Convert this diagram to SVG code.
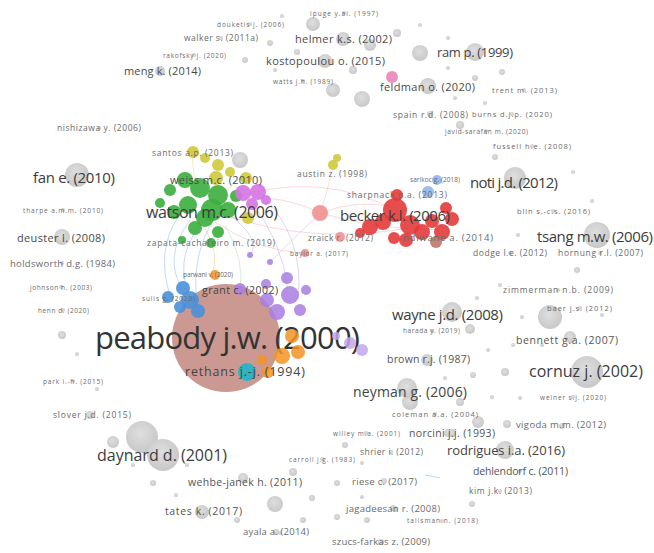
<svg xmlns="http://www.w3.org/2000/svg" width="654" height="553" viewBox="0 0 654 553">
<defs>
<radialGradient id="gg" cx="45%" cy="40%" r="60%"><stop offset="0" stop-color="#dedede"/><stop offset="1" stop-color="#c8c8c8"/></radialGradient>
<style>
.g{fill:url(#gg)}
.gr{fill:#3aae3e;opacity:.9}
.ye{fill:#cfc93a;opacity:.9}
.mg{fill:#d673e3;opacity:.9}
.pu{fill:#a77de2;opacity:.85}
.lp{fill:#c3a6ea;opacity:.85}
.or{fill:#f39324;opacity:.85}
.bl{fill:#4a90d8;opacity:.9}
.lb{fill:#8fb6ea;opacity:.9}
.rd{fill:#e33b3b;opacity:.9}
.lr{fill:#f29090;opacity:.9}
.cy{fill:#1fb5c9;opacity:.9}
text{font-family:"Open Sans","Liberation Sans",sans-serif;fill:#6a6a6a;lengthAdjust:spacingAndGlyphs}
.a{font-size:6.5px}.b{font-size:7.5px}.c{font-size:8.5px}.d{font-size:9.5px}
.e{font-size:11px;fill:#4a4a4a}.f{font-size:13px;fill:#444}.h{font-size:15px;fill:#3c3c3c}.z{font-size:31px;fill:#333}
#links path{fill:none;stroke-width:.8;opacity:.5}
</style>
</defs>
<rect width="654" height="553" fill="#fff"/>
<g id="links">
<path d="M215,205 Q270,188 320,213" stroke="#f2a0a0"/>
<path d="M228,200 Q320,168 398,212" stroke="#f2a0a0"/>
<path d="M225,215 Q310,245 410,228" stroke="#f2a0a0"/>
<path d="M320,213 Q360,198 395,208" stroke="#f2a0a0"/>
<path d="M320,213 Q380,230 440,230" stroke="#f2a0a0"/>
<path d="M320,213 Q328,190 332,170" stroke="#f2b0b0"/>
<path d="M215,222 Q260,252 305,253" stroke="#f2a0a0"/>
<path d="M190,220 Q162,258 183,290" stroke="#6aa4e0"/>
<path d="M200,225 Q172,262 192,300" stroke="#6aa4e0"/>
<path d="M180,214 Q155,250 170,295" stroke="#6aa4e0"/>
<path d="M210,226 Q190,262 198,310" stroke="#6aa4e0"/>
<path d="M250,200 Q282,240 288,290" stroke="#b590e6"/>
<path d="M262,195 Q305,238 298,300" stroke="#b590e6"/>
<path d="M320,213 Q292,240 270,262" stroke="#c0a0ea"/>
<path d="M230,215 Q262,240 250,255" stroke="#b590e6"/>
<path d="M205,228 Q220,255 212,275" stroke="#f5b060"/>
<path d="M198,190 Q192,172 192,153" stroke="#d8d060"/>
<path d="M220,200 Q235,180 245,175" stroke="#d8d060"/>
<path d="M225,225 Q245,260 240,290" stroke="#a0d0a0"/>
<path d="M425,475 Q432,476 440,478" stroke="#1fb5c9" stroke-width="1.6" opacity=".8"/>
</g>
<g id="n_peabody"><circle cx="226" cy="338" r="54" fill="#c8948b" opacity=".95"/><text class="z" x="95" y="349" textLength="265">peabody j.w. (2000)</text></g>
<g id="clusters">
<g id="c_g1"><circle class="gr" cx="170" cy="190" r="6"/></g>
<g id="c_g2"><circle class="gr" cx="185" cy="180" r="8"/></g>
<g id="c_g3"><circle class="gr" cx="200" cy="188" r="10"/></g>
<g id="c_g4"><circle class="gr" cx="218" cy="195" r="10"/></g>
<g id="c_g5"><circle class="gr" cx="188" cy="205" r="9"/></g>
<g id="c_g6"><circle class="gr" cx="174" cy="212" r="7"/></g>
<g id="c_g7"><circle class="gr" cx="205" cy="218" r="9"/></g>
<g id="c_g8"><circle class="gr" cx="228" cy="210" r="8"/></g>
<g id="c_g9"><circle class="gr" cx="195" cy="228" r="7"/></g>
<g id="c_g10"><circle class="gr" cx="218" cy="232" r="6"/></g>
<g id="c_g11"><circle class="gr" cx="160" cy="203" r="5"/></g>
<g id="c_g12"><circle class="gr" cx="236" cy="196" r="6"/></g>
<g id="c_g13"><circle class="gr" cx="182" cy="240" r="4"/></g>
<g id="c_y1"><circle class="ye" cx="205" cy="158" r="5"/></g>
<g id="c_y2"><circle class="ye" cx="218" cy="165" r="6"/></g>
<g id="c_y3"><circle class="ye" cx="230" cy="172" r="5"/></g>
<g id="c_y4"><circle class="ye" cx="246" cy="178" r="6"/></g>
<g id="c_y5"><circle class="ye" cx="248" cy="218" r="6"/></g>
<g id="c_y6"><circle class="ye" cx="337" cy="158" r="4"/></g>
<g id="c_gr"><circle class="g" cx="240" cy="160" r="8"/></g>
<g id="c_m1"><circle class="mg" cx="243" cy="193" r="8"/></g>
<g id="c_m2"><circle class="mg" cx="258" cy="192" r="8"/></g>
<g id="c_m3"><circle class="mg" cx="252" cy="204" r="6"/></g>
<g id="c_m4"><circle class="mg" cx="266" cy="200" r="5"/></g>
<g id="c_p1"><circle class="pu" cx="287" cy="278" r="6"/></g>
<g id="c_p2"><circle class="pu" cx="290" cy="295" r="9"/></g>
<g id="c_p3"><circle class="pu" cx="277" cy="312" r="8"/></g>
<g id="c_p4"><circle class="pu" cx="267" cy="300" r="7"/></g>
<g id="c_p5"><circle class="pu" cx="300" cy="310" r="6"/></g>
<g id="c_p6"><circle class="pu" cx="306" cy="290" r="5"/></g>
<g id="c_p7"><circle class="pu" cx="266" cy="284" r="5"/></g>
<g id="c_p8"><circle class="pu" cx="250" cy="255" r="3"/></g>
<g id="c_p9"><circle class="pu" cx="270" cy="262" r="3"/></g>
<g id="c_p10"><circle class="lp" cx="350" cy="343" r="6"/></g>
<g id="c_p11"><circle class="lp" cx="362" cy="350" r="6"/></g>
<g id="c_p12"><circle class="lp" cx="336" cy="336" r="4"/></g>
<g id="c_o1"><circle class="or" cx="292" cy="336" r="7"/></g>
<g id="c_o2"><circle class="or" cx="298" cy="352" r="7"/></g>
<g id="c_o3"><circle class="or" cx="268" cy="372" r="6"/></g>
<g id="c_o4"><circle class="or" cx="282" cy="356" r="8"/></g>
<g id="c_o5"><circle class="or" cx="262" cy="360" r="5"/></g>
<g id="c_b1"><circle class="bl" cx="183" cy="288" r="7"/></g>
<g id="c_b2"><circle class="bl" cx="190" cy="300" r="9"/></g>
<g id="c_b3"><circle class="bl" cx="180" cy="307" r="6"/></g>
<g id="c_b4"><circle class="bl" cx="198" cy="311" r="7"/></g>
<g id="c_r1"><circle class="rd" cx="370" cy="227" r="8"/></g>
<g id="c_r2"><circle class="rd" cx="383" cy="222" r="8"/></g>
<g id="c_r3"><circle class="rd" cx="410" cy="225" r="10"/></g>
<g id="c_r4"><circle class="rd" cx="422" cy="232" r="8"/></g>
<g id="c_r5"><circle class="rd" cx="406" cy="240" r="7"/></g>
<g id="c_r6"><circle class="rd" cx="432" cy="221" r="7"/></g>
<g id="c_r7"><circle class="rd" cx="442" cy="232" r="8"/></g>
<g id="c_r8"><circle class="rd" cx="452" cy="219" r="7"/></g>
<g id="c_r9"><circle class="rd" cx="394" cy="238" r="6"/></g>
<g id="c_r10"><circle class="rd" cx="360" cy="233" r="5"/></g>
<g id="c_r11"><circle class="rd" cx="446" cy="208" r="6"/></g>
<g id="c_l1"><circle class="lr" cx="320" cy="213" r="8"/></g>
<g id="c_lb1"><circle class="lb" cx="428" cy="192" r="6"/></g>
<g id="c_pk"><circle fill="#ea7fb0" opacity=".85" cx="392" cy="77" r="6"/></g>
</g>
<g id="minor">
<g id="u1"><circle class="g" cx="313" cy="24" r="7"/></g>
<g id="u2"><circle class="g" cx="370" cy="45" r="6"/></g>
<g id="u3"><circle class="g" cx="397" cy="33" r="4"/></g>
<g id="u4"><circle class="g" cx="353" cy="70" r="4"/></g>
<g id="u5"><circle class="g" cx="333" cy="90" r="7"/></g>
<g id="u6"><circle class="g" cx="362" cy="99" r="8"/></g>
<g id="u7"><circle class="g" cx="420" cy="53" r="8"/></g>
<g id="u8"><circle class="g" cx="270" cy="43" r="3"/></g>
<g id="u9"><circle class="g" cx="245" cy="60" r="3"/></g>
<g id="u10"><circle class="g" cx="297" cy="52" r="3"/></g>
<g id="u11"><circle class="g" cx="275" cy="70" r="2"/></g>
<g id="u12"><circle class="g" cx="282" cy="16" r="2"/></g>
<g id="u13"><circle class="g" cx="420" cy="25" r="2"/></g>
<g id="u14"><circle class="g" cx="448" cy="38" r="2"/></g>
<g id="u15"><circle class="g" cx="448" cy="68" r="2"/></g>
<g id="u16"><circle class="g" cx="502" cy="72" r="3"/></g>
<g id="u17"><circle class="g" cx="475" cy="78" r="3"/></g>
<g id="u18"><circle class="g" cx="455" cy="98" r="2"/></g>
<g id="u19"><circle class="g" cx="485" cy="103" r="2"/></g>
<g id="u20"><circle class="g" cx="460" cy="125" r="4"/></g>
<g id="u21"><circle class="g" cx="573" cy="172" r="2"/></g>
<g id="u22"><circle class="g" cx="592" cy="201" r="2"/></g>
<g id="u23"><circle class="g" cx="518" cy="235" r="2"/></g>
<g id="u24"><circle class="g" cx="495" cy="157" r="3"/></g>
<g id="u25"><circle class="g" cx="577" cy="270" r="3"/></g>
<g id="u26"><circle class="g" cx="62" cy="335" r="4"/></g>
<g id="u27"><circle class="g" cx="77" cy="354" r="2"/></g>
<g id="u28"><circle class="g" cx="97" cy="389" r="2"/></g>
<g id="u29"><circle class="g" cx="500" cy="285" r="2"/></g>
<g id="u30"><circle class="g" cx="477" cy="298" r="2"/></g>
<g id="u31"><circle class="g" cx="522" cy="317" r="2"/></g>
<g id="u32"><circle class="g" cx="602" cy="315" r="2"/></g>
<g id="u33"><circle class="g" cx="513" cy="345" r="2"/></g>
<g id="u34"><circle class="g" cx="542" cy="345" r="2"/></g>
<g id="u35"><circle class="g" cx="488" cy="350" r="2"/></g>
<g id="u36"><circle class="g" cx="505" cy="372" r="4"/></g>
<g id="u37"><circle class="g" cx="473" cy="375" r="3"/></g>
<g id="u38"><circle class="g" cx="492" cy="397" r="2"/></g>
<g id="u39"><circle class="g" cx="520" cy="398" r="2"/></g>
<g id="u40"><circle class="g" cx="445" cy="378" r="2"/></g>
<g id="u41"><circle class="g" cx="142" cy="437" r="16"/></g>
<g id="u42"><circle class="g" cx="113" cy="442" r="6"/></g>
<g id="u43"><circle class="g" cx="133" cy="465" r="2"/></g>
<g id="u44"><circle class="g" cx="153" cy="483" r="3"/></g>
<g id="u45"><circle class="g" cx="176" cy="495" r="2"/></g>
<g id="u46"><circle class="g" cx="187" cy="465" r="2"/></g>
<g id="u47"><circle class="g" cx="275" cy="504" r="8"/></g>
<g id="u48"><circle class="g" cx="293" cy="472" r="4"/></g>
<g id="u49"><circle class="g" cx="312" cy="498" r="3"/></g>
<g id="u50"><circle class="g" cx="303" cy="520" r="3"/></g>
<g id="u51"><circle class="g" cx="337" cy="483" r="3"/></g>
<g id="u52"><circle class="g" cx="337" cy="517" r="3"/></g>
<g id="u53"><circle class="g" cx="367" cy="520" r="3"/></g>
<g id="u54"><circle class="g" cx="345" cy="445" r="3"/></g>
<g id="u55"><circle class="g" cx="362" cy="463" r="2"/></g>
<g id="u56"><circle class="g" cx="362" cy="497" r="2"/></g>
<g id="u57"><circle class="g" cx="237" cy="520" r="3"/></g>
<g id="u58"><circle class="g" cx="280" cy="533" r="2"/></g>
<g id="u59"><circle class="g" cx="380" cy="543" r="2"/></g>
<g id="u60"><circle class="g" cx="395" cy="509" r="3"/></g>
<g id="u61"><circle class="g" cx="410" cy="402" r="8"/></g>
<g id="u62"><circle class="g" cx="507" cy="424" r="4"/></g>
<g id="u63"><circle class="g" cx="472" cy="504" r="3"/></g>
<g id="u64"><circle class="g" cx="460" cy="402" r="4"/></g>
<g id="u65"><circle class="g" cx="478" cy="422" r="6"/></g>
<g id="u66"><circle class="g" cx="448" cy="433" r="4"/></g>
<g id="u67"><circle class="g" cx="550" cy="317" r="12"/></g>
<g id="u68"><circle class="g" cx="470" cy="329" r="5"/></g>
</g>
<g id="nodes">
<g id="n1"><circle class="g" cx="344" cy="13" r="2"/><text class="a" x="310" y="15.5" textLength="68">ipuge y.ai. (1997)</text></g>
<g id="n2"><circle class="g" cx="250" cy="24" r="2"/><text class="a" x="217" y="26.5" textLength="67">douketis j. (2006)</text></g>
<g id="n3"><circle class="g" cx="221" cy="38" r="2"/><text class="c" x="184" y="41" textLength="74">walker s. (2011a)</text></g>
<g id="n4"><circle class="g" cx="194" cy="55" r="2"/><text class="a" x="163" y="57.5" textLength="63">rakofsky j. (2020)</text></g>
<g id="n5"><circle class="g" cx="343" cy="39" r="7"/><text class="e" x="295" y="43" textLength="97">helmer k.s. (2002)</text></g>
<g id="n6"><circle class="g" cx="325" cy="61" r="7"/><text class="e" x="266" y="65" textLength="119">kostopoulou o. (2015)</text></g>
<g id="n7"><circle class="g" cx="160" cy="71" r="5"/><text class="e" x="124" y="75" textLength="77">meng k. (2014)</text></g>
<g id="n8"><circle class="g" cx="303" cy="81" r="2"/><text class="a" x="273" y="83.5" textLength="60">watts j.h. (1989)</text></g>
<g id="n9"><circle class="g" cx="475" cy="52" r="9"/><text class="f" x="437" y="56.5" textLength="76">ram p. (1999)</text></g>
<g id="n10"><circle class="g" cx="428" cy="86" r="8"/><text class="e" x="380" y="91" textLength="95">feldman o. (2020)</text></g>
<g id="n11"><circle class="g" cx="524" cy="90" r="2"/><text class="b" x="492" y="93" textLength="65">trent m. (2013)</text></g>
<g id="n12"><circle class="g" cx="430" cy="114" r="3"/><text class="c" x="393" y="118" textLength="75">spain r.d. (2008)</text></g>
<g id="n13"><circle class="g" cx="512" cy="114" r="2"/><text class="b" x="472" y="117" textLength="80">burns d.j.p. (2020)</text></g>
<g id="n14"><circle class="g" cx="486" cy="131" r="2"/><text class="a" x="445" y="133.5" textLength="83">javid-sarafan m. (2020)</text></g>
<g id="n15"><circle class="g" cx="99" cy="128" r="2"/><text class="c" x="57" y="131" textLength="84">nishizawa y. (2006)</text></g>
<g id="n16"><circle class="g" cx="532" cy="146" r="2"/><text class="b" x="493" y="149" textLength="78">fussell h.e. (2008)</text></g>
<g id="n17"><circle class="ye" cx="193" cy="152" r="6"/><text class="c" x="152" y="156" textLength="81">santos a.p. (2013)</text></g>
<g id="n18"><circle class="ye" cx="333" cy="165" r="5"/><text class="c" x="297" y="177" textLength="70">austin z. (1998)</text></g>
<g id="n19"><circle class="g" cx="77" cy="175" r="12"/><text class="h" x="33" y="183" textLength="82">fan e. (2010)</text></g>
<g id="n20"><circle class="ye" cx="216" cy="178" r="7"/><text class="e" x="170" y="184" textLength="92">weiss m.c. (2010)</text></g>
<g id="n21"><circle class="lb" cx="437" cy="180" r="5"/><text class="a" x="410" y="182" textLength="50">sarikoc g. (2018)</text></g>
<g id="n22"><circle class="g" cx="515" cy="178" r="11"/><text class="h" x="470" y="188" textLength="88">noti j.d. (2012)</text></g>
<g id="n23"><circle class="rd" cx="397" cy="195" r="6"/><text class="c" x="347" y="198" textLength="100">sharpnack p.a. (2013)</text></g>
<g id="n24"><circle class="g" cx="63" cy="210" r="2"/><text class="a" x="23" y="212.5" textLength="80">tharpe a.m.m. (2010)</text></g>
<g id="n25"><circle class="g" cx="553" cy="211" r="2"/><text class="b" x="517" y="214" textLength="73">blin s.-c.s. (2016)</text></g>
<g id="n26"><circle class="gr" cx="212" cy="210" r="11"/><text class="h" x="146" y="218" textLength="132" style="font-size:16px">watson m.c. (2006)</text></g>
<g id="n27"><circle class="rd" cx="395" cy="210" r="12"/><text class="h" x="340" y="221" textLength="110">becker k.l. (2006)</text></g>
<g id="n28"><circle class="g" cx="62" cy="237" r="8"/><text class="e" x="17" y="242" textLength="88">deuster l. (2008)</text></g>
<g id="n29"><circle class="gr" cx="211" cy="243" r="5"/><text class="c" x="147" y="246" textLength="128">zapata-cachafeiro m. (2019)</text></g>
<g id="n30"><circle class="lr" cx="340" cy="237" r="5"/><text class="c" x="308" y="241" textLength="65">zraick r. (2012)</text></g>
<g id="n31"><circle fill="#b8705e" opacity=".85" cx="436" cy="242" r="6"/><text class="d" x="403" y="240.5" textLength="90">ndiwane a. (2014)</text></g>
<g id="n32"><circle class="g" cx="597" cy="235" r="13"/><text class="h" x="537" y="242" textLength="116">tsang m.w. (2006)</text></g>
<g id="n33"><circle class="lr" cx="305" cy="253" r="4"/><text class="a" x="290" y="255.5" textLength="58">baylor a. (2017)</text></g>
<g id="n34"><circle class="g" cx="510" cy="253" r="2"/><text class="c" x="473" y="256" textLength="74">dodge l.e. (2012)</text></g>
<g id="n35"><circle class="g" cx="600" cy="253" r="2"/><text class="c" x="558" y="256" textLength="85">hornung r.l. (2007)</text></g>
<g id="n36"><circle class="g" cx="62" cy="263" r="2"/><text class="d" x="10" y="266.5" textLength="105">holdsworth d.g. (1984)</text></g>
<g id="n37"><circle class="or" cx="215" cy="275" r="5"/><text class="a" x="183" y="277" textLength="50">parwani v. (2020)</text></g>
<g id="n38"><circle class="g" cx="61" cy="287" r="2"/><text class="a" x="30" y="289.5" textLength="62">johnson h. (2003)</text></g>
<g id="n39"><circle class="g" cx="558" cy="290" r="2"/><text class="c" x="503" y="293" textLength="110">zimmerman n.b. (2009)</text></g>
<g id="n40"><circle class="pu" cx="240" cy="289" r="6"/><text class="d" x="202" y="293.5" textLength="76" style="font-size:10.5px;fill:#444">grant c. (2002)</text></g>
<g id="n41"><circle class="bl" cx="168" cy="297" r="6"/><text class="a" x="142" y="300.5" textLength="53">sulis g. (2020)</text></g>
<g id="n42"><circle class="g" cx="580" cy="308" r="2"/><text class="b" x="547" y="311" textLength="65">baer j.s. (2012)</text></g>
<g id="n43"><circle class="g" cx="63" cy="310" r="2"/><text class="a" x="38" y="312.5" textLength="51">henn d. (2020)</text></g>
<g id="n44"><circle class="g" cx="452" cy="312" r="10"/><text class="h" x="392" y="320" textLength="111">wayne j.d. (2008)</text></g>
<g id="n45"><circle class="g" cx="432" cy="331" r="2"/><text class="a" x="403" y="333" textLength="57">harada y. (2019)</text></g>
<g id="n46"><circle class="g" cx="570" cy="337" r="6"/><text class="d" x="516" y="343.5" textLength="102" style="font-size:10.5px;fill:#555">bennett g.a. (2007)</text></g>
<g id="n47"><circle class="g" cx="427" cy="360" r="6"/><text class="d" x="387" y="362.5" textLength="83" style="font-size:10.5px;fill:#555">brown r.j. (1987)</text></g>
<g id="n48"><circle class="cy" cx="247" cy="372" r="9"/><text class="f" x="185" y="376" textLength="120" style="font-size:12.5px">rethans j.-j. (1994)</text></g>
<g id="n49"><circle class="g" cx="587" cy="372" r="16"/><text class="h" x="529" y="377" textLength="114" style="font-size:16px">cornuz j. (2002)</text></g>
<g id="n50"><circle class="g" cx="73" cy="381" r="2"/><text class="a" x="43" y="383.5" textLength="60">park i.-h. (2015)</text></g>
<g id="n51"><circle class="g" cx="407" cy="388" r="10"/><text class="f" x="353" y="397" textLength="114" style="font-size:14px">neyman g. (2006)</text></g>
<g id="n52"><circle class="g" cx="573" cy="397" r="2"/><text class="a" x="540" y="399.5" textLength="66">weiner s.j. (2020)</text></g>
<g id="n53"><circle class="g" cx="90" cy="415" r="4"/><text class="c" x="53" y="418" textLength="78">slover j.d. (2015)</text></g>
<g id="n54"><circle class="g" cx="435" cy="414" r="2"/><text class="b" x="392" y="417" textLength="86">coleman a.a. (2004)</text></g>
<g id="n55"><circle class="g" cx="562" cy="426" r="3"/><text class="d" x="516" y="427.5" textLength="90">vigoda m.m. (2012)</text></g>
<g id="n56"><circle class="g" cx="366" cy="433" r="2"/><text class="a" x="333" y="435.5" textLength="67">willey m.a. (2001)</text></g>
<g id="n57"><circle class="g" cx="452" cy="433" r="4"/><text class="d" x="409" y="436.5" textLength="86" style="font-size:10.5px;fill:#555">norcini j.j. (1993)</text></g>
<g id="n58"><circle class="g" cx="505" cy="450" r="9"/><text class="f" x="447" y="454.5" textLength="118">rodrigues i.a. (2016)</text></g>
<g id="n59"><circle class="g" cx="391" cy="452" r="2"/><text class="c" x="360" y="455" textLength="63">shrier i. (2012)</text></g>
<g id="n60"><circle class="g" cx="163" cy="455" r="16"/><text class="h" x="97" y="460.5" textLength="130" style="font-size:16px">daynard d. (2001)</text></g>
<g id="n61"><circle class="g" cx="322" cy="459" r="2"/><text class="a" x="289" y="461.5" textLength="66">carroll j.g. (1983)</text></g>
<g id="n62"><circle class="g" cx="520" cy="471" r="2"/><text class="d" x="473" y="474.5" textLength="95" style="font-size:10.5px;fill:#555">dehlendorf c. (2011)</text></g>
<g id="n63"><circle class="g" cx="384" cy="481" r="3"/><text class="d" x="352" y="484.5" textLength="65">riese c. (2017)</text></g>
<g id="n64"><circle class="g" cx="243" cy="478" r="5"/><text class="d" x="188" y="485.5" textLength="114" style="font-size:10.5px;fill:#555">wehbe-janek h. (2011)</text></g>
<g id="n65"><circle class="g" cx="500" cy="491" r="2"/><text class="c" x="469" y="494" textLength="63">kim j.k. (2013)</text></g>
<g id="n66"><circle class="g" cx="393" cy="508" r="3"/><text class="d" x="346" y="511.5" textLength="94">jagadeesan r. (2008)</text></g>
<g id="n67"><circle class="g" cx="202" cy="512" r="7"/><text class="d" x="165" y="514.5" textLength="77" style="font-size:10.5px;fill:#555">tates k. (2017)</text></g>
<g id="n68"><circle class="g" cx="442" cy="521" r="2"/><text class="a" x="407" y="523" textLength="71">talisman n. (2018)</text></g>
<g id="n69"><circle class="g" cx="276" cy="532" r="3"/><text class="d" x="243" y="535" textLength="66">ayala a. (2014)</text></g>
<g id="n70"><circle class="g" cx="381" cy="542" r="3"/><text class="d" x="332" y="545" textLength="98">szucs-farkas z. (2009)</text></g>
</g>
</svg>
